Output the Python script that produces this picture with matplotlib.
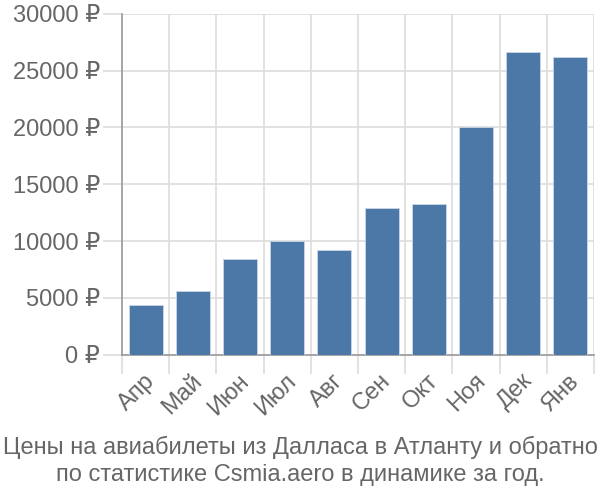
import numpy as np
import matplotlib as mpl
from matplotlib import pyplot as plt

mpl.rcParams.update({
    'font.family': ['Liberation Sans', 'DejaVu Sans'],
    'font.size': 17,
})

months = ['Апр', 'Май', 'Июн', 'Июл', 'Авг', 'Сен', 'Окт', 'Ноя', 'Дек', 'Янв']
prices = [4380, 5580, 8440, 10030, 9180, 12880, 13260, 20060, 26620, 26150]
yticks = [0, 5000, 10000, 15000, 20000, 25000, 30000]
title = ('Цены на авиабилеты из Далласа в Атланту и обратно\n'
         'по статистике Csmia.aero в динамике за год.')

text_col = '#666666'
grid_col = '#dddddd'
axis_col = '#999999'

fig = plt.figure(figsize=(6, 5), dpi=100)
ax = fig.add_axes([0.2033, 0.2906, 0.7867, 0.682])

x = np.arange(len(months))
ax.bar(x, prices, width=0.72, color='#4c78a8', edgecolor='#c9d6e6',
       linewidth=0.6, zorder=3)

ax.set_xlim(-0.5, len(months) - 0.5)
ax.set_ylim(0, 30000)

ax.set_yticks(yticks)
ax.set_yticklabels(['%d ₽' % v for v in yticks])
ax.set_xticks(x)
ax.set_xticklabels(months, rotation=45, ha='right', rotation_mode='anchor')
ax.set_xticks(np.arange(len(months) + 1) - 0.5, minor=True)

ax.grid(True, axis='y', which='major', color=grid_col, linewidth=1.2, zorder=0)
ax.grid(True, axis='x', which='minor', color=grid_col, linewidth=1.2, zorder=0)

ax.tick_params(axis='y', which='major', length=14, color=grid_col, width=1.2,
               pad=2, labelcolor=text_col, labelsize=17)
ax.tick_params(axis='x', which='major', length=0, pad=11,
               labelcolor=text_col, labelsize=17)
ax.tick_params(axis='x', which='minor', length=14, color=grid_col, width=1.2)

for t in ax.get_xticklabels():
    t.set_transform(t.get_transform() + mpl.transforms.ScaledTranslation(-0.02, 0, fig.dpi_scale_trans))

# darker tick for the zero line and the left axis
ax.yaxis.get_ticklines()[0].set_color(axis_col)
ax.xaxis.get_minorticklines()[0].set_color(axis_col)

for s in ['top', 'right']:
    ax.spines[s].set_visible(False)
ax.spines['left'].set_color(axis_col)
ax.spines['bottom'].set_color(axis_col)
ax.spines['left'].set_linewidth(1.2)
ax.spines['bottom'].set_linewidth(1.2)

fig.text(0.5, 0.078, title, ha='center', va='center', color=text_col,
         fontsize=17, linespacing=1.3)

fig.savefig('out.png', dpi=100)
